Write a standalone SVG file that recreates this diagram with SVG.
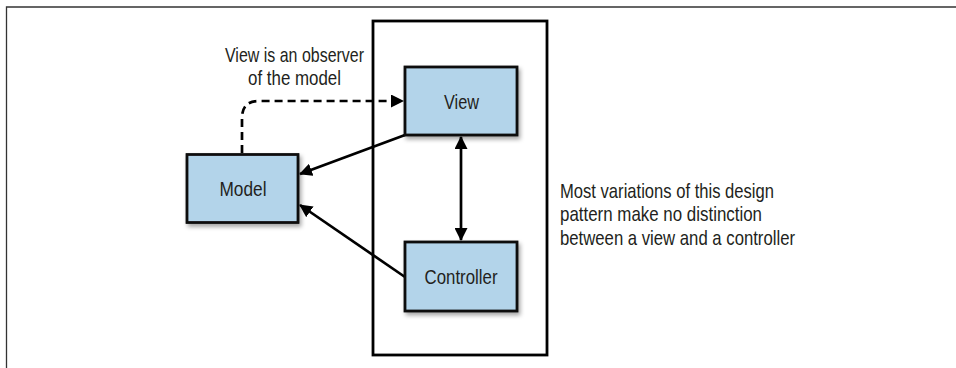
<svg xmlns="http://www.w3.org/2000/svg" width="956" height="368" viewBox="0 0 956 368">
<style>
.box{fill:#b3d4ea;stroke:#111;stroke-width:2.8;filter:url(#sh)}
.t{font-family:"Liberation Sans Narrow","Liberation Sans",Arial,sans-serif;font-size:21px;fill:#231f20}
.lbl{text-anchor:middle}
.ln{fill:none;stroke:#000;stroke-width:2.7}
</style>
<defs>
<filter id="sh" x="-20%" y="-20%" width="150%" height="150%">
<feDropShadow dx="2" dy="3" stdDeviation="2" flood-color="#000" flood-opacity="0.35"/>
</filter>
<marker id="ah" viewBox="0 0 13 13" refX="12" refY="6.5" markerWidth="13" markerHeight="13" markerUnits="userSpaceOnUse" orient="auto-start-reverse">
<path d="M0,0 L13,6.5 L0,13 Z" fill="#000"/>
</marker>
</defs>
<g id="frame">
<path d="M6.5,368 V7 H956" fill="none" stroke="#333" stroke-width="1.3"/>
</g>
<g id="container">
<rect x="373" y="21" width="174" height="334" fill="none" stroke="#000" stroke-width="2.8"/>
</g>
<g id="connectors">
<path class="ln" d="M242,153 V118 Q242,101 259,101 H403" stroke-dasharray="8,5" marker-end="url(#ah)"/>
<path class="ln" d="M405,135 L300,174" marker-end="url(#ah)"/>
<path class="ln" d="M405,277 L300,205" marker-end="url(#ah)"/>
<path class="ln" d="M461,137 V240" marker-start="url(#ah)" marker-end="url(#ah)"/>
</g>
<g id="model">
<rect class="box" x="187" y="154.5" width="111" height="68"/>
<text class="t lbl" x="243" y="196" textLength="47" lengthAdjust="spacingAndGlyphs">Model</text>
</g>
<g id="view">
<rect class="box" x="405" y="67" width="112" height="68"/>
<text class="t lbl" x="461.5" y="108.5" textLength="35" lengthAdjust="spacingAndGlyphs">View</text>
</g>
<g id="controller">
<rect class="box" x="405" y="242" width="112" height="69"/>
<text class="t lbl" x="461" y="284" textLength="73" lengthAdjust="spacingAndGlyphs">Controller</text>
</g>
<g id="note-observer">
<text class="t" x="225" y="62" textLength="139" lengthAdjust="spacingAndGlyphs">View is an observer</text>
<text class="t" x="248" y="85" textLength="93" lengthAdjust="spacingAndGlyphs">of the model</text>
</g>
<g id="note-variations">
<text class="t" x="560" y="197.5" textLength="214" lengthAdjust="spacingAndGlyphs">Most variations of this design</text>
<text class="t" x="560" y="221" textLength="202" lengthAdjust="spacingAndGlyphs">pattern make no distinction</text>
<text class="t" x="560" y="244.5" textLength="235" lengthAdjust="spacingAndGlyphs">between a view and a controller</text>
</g>
</svg>
